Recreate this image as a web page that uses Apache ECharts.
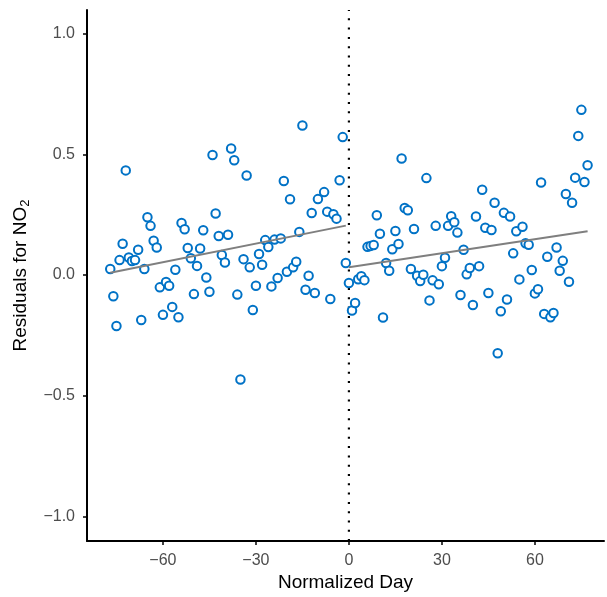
<!DOCTYPE html>
<html><head><meta charset="utf-8">
<script src="https://cdn.jsdelivr.net/npm/echarts@6/dist/echarts.min.js"></script>
<style>html,body{margin:0;padding:0;background:#fff}#c{width:607px;height:597px}</style>
</head><body><div id="c"></div>
<script>
const leftDays = [-77,-76,-75,-74,-73,-72,-71,-70,-69,-68,-67,-66,-65,-64,-63,-62,-61,-60,-59,-58,-57,-56,-55,-54,-53,-52,-51,-50,-49,-48,-47,-46,-45,-44,-43,-42,-41,-40,-39,-38,-37,-36,-35,-34,-33,-32,-31,-30,-29,-28,-27,-26,-25,-24,-23,-22,-21,-20,-19,-18,-17,-16,-15,-14,-13,-12,-11,-10,-8,-7,-6,-5,-4,-3,-2,-1];
const leftResid = [0.025,-0.088,-0.211,0.062,0.13,0.434,0.073,0.058,0.062,0.105,-0.186,0.025,0.24,0.204,0.142,0.114,-0.051,-0.165,-0.029,-0.044,-0.132,0.022,-0.175,0.216,0.19,0.112,0.07,-0.079,0.038,0.11,0.186,-0.01,-0.069,0.498,0.255,0.162,0.083,0.052,0.167,0.525,0.476,-0.081,-0.433,0.066,0.413,0.032,-0.145,-0.044,0.087,0.043,0.145,0.116,-0.047,0.147,-0.012,0.152,0.39,0.014,0.314,0.032,0.055,0.179,0.62,-0.061,-0.003,0.257,-0.074,0.315,0.344,0.263,-0.099,0.252,0.234,0.393,0.572,0.05];
const rightDays = [0,1,2,3,4,5,6,7,8,9,10,11,12,13,14,15,16,17,18,19,20,21,22,23,24,25,26,27,28,29,30,31,32,33,34,35,36,37,38,39,40,41,42,43,44,45,46,47,48,49,50,51,52,53,54,55,56,57,58,59,60,61,62,63,64,65,66,67,68,69,70,71,72,73,74,75,76,77];
const rightResid = [-0.033,-0.147,-0.116,-0.017,-0.005,-0.021,0.117,0.121,0.125,0.248,0.171,-0.176,0.05,0.018,0.107,0.183,0.129,0.483,0.278,0.269,0.025,0.191,-0.003,-0.025,0.001,0.402,-0.105,-0.022,0.204,-0.038,0.037,0.072,0.204,0.244,0.219,0.176,-0.083,0.105,0.003,0.029,-0.124,0.243,0.037,0.354,0.196,-0.074,0.187,0.3,-0.324,-0.15,0.258,-0.101,0.243,0.09,0.182,-0.018,0.2,0.132,0.126,0.021,-0.076,-0.059,0.384,-0.161,0.076,-0.175,-0.157,0.114,0.018,0.059,0.336,-0.028,0.3,0.404,0.577,0.685,0.386,0.455];
const fitLeft = [[-77,0.01],[-1,0.205]];
const fitRight = [[0,0.032],[77,0.182]];
const xTicks = [-60,-30,0,30,60];
const yTicks = [-1.0,-0.5,0.0,0.5,1.0];
const xRange = [-84.5,82.3];
const yRange = [-1.103,1.099];

const minus = s => String(s).replace('-', '\u2212');
const pts = leftDays.map((d,i)=>[d,leftResid[i]]).concat(rightDays.map((d,i)=>[d,rightResid[i]]));

const chart = echarts.init(document.getElementById('c'), null, {renderer:'canvas'});
chart.setOption({
  animation:false,
  backgroundColor:'#fff',
  grid:{left:87,right:3,top:10,bottom:54,containLabel:false},
  xAxis:{
    type:'value', min:xRange[0], max:xRange[1],
    name:'Normalized Day', nameLocation:'middle', nameGap:30,
    nameTextStyle:{fontFamily:'Liberation Sans',fontSize:19,color:'#000'},
    axisLine:{show:true,onZero:false,lineStyle:{color:'#000',width:2}},
    axisTick:{show:true,length:4,lineStyle:{color:'#000',width:1.5},customValues:xTicks},
    axisLabel:{customValues:xTicks,formatter:v=>minus(v),fontFamily:'Liberation Sans',fontSize:16,color:'#4d4d4d',margin:11},
    splitLine:{show:false}
  },
  yAxis:{
    type:'value', min:yRange[0], max:yRange[1],
    name:'Residuals for NO{sub|2}', nameLocation:'middle', nameGap:55, nameRotate:90,
    nameTextStyle:{fontFamily:'Liberation Sans',fontSize:19,color:'#000',
      rich:{sub:{fontFamily:'Liberation Sans',fontSize:13,color:'#000',verticalAlign:'bottom',padding:[9,0,0,0]}}},
    axisLine:{show:true,onZero:false,lineStyle:{color:'#000',width:2}},
    axisTick:{show:true,length:4,lineStyle:{color:'#000',width:1.5},customValues:yTicks},
    axisLabel:{customValues:yTicks,formatter:v=>minus(Number(v).toFixed(1)),fontFamily:'Liberation Sans',fontSize:16,color:'#4d4d4d',margin:12},
    splitLine:{show:false}
  },
  series:[
    {type:'line',data:[[0,yRange[0]],[0,yRange[1]]],symbol:'none',silent:true,
     lineStyle:{color:'#000',width:2.2,type:[2,7.3]},z:1},
    {type:'scatter',data:pts,symbol:'emptyCircle',symbolSize:8.5,
     itemStyle:{color:'#0072c6',borderColor:'#0072c6',borderWidth:1.6,opacity:1},z:3},
    {type:'line',data:fitLeft,symbol:'none',lineStyle:{color:'#7f7f7f',width:2},z:4},
    {type:'line',data:fitRight,symbol:'none',lineStyle:{color:'#7f7f7f',width:2},z:4}
  ]
});
</script></body></html>
